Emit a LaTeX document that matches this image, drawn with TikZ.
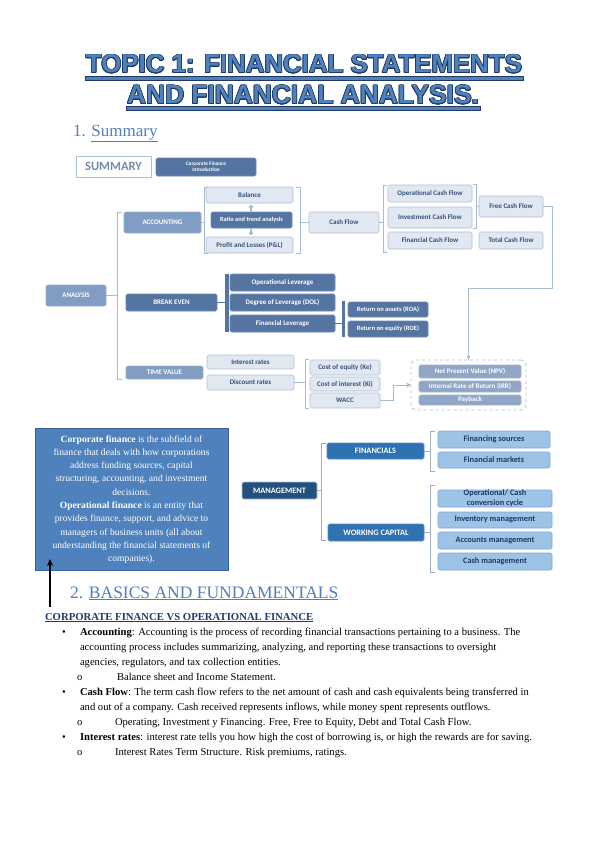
\documentclass[tikz,border=0pt]{standalone}
\usepackage{fontspec}
\usepackage{graphicx}
\setmainfont{Liberation Serif}
\newfontfamily\calf{Carlito}
\newfontfamily\arf{Liberation Sans}
\usepackage{contour}
\contourlength{0.7pt}
\usetikzlibrary{arrows.meta}
\definecolor{titleblue}{HTML}{4F81BD}
\definecolor{titlenavy}{HTML}{1F3864}
\definecolor{headblue}{HTML}{4F7FBE}
\definecolor{subhead}{HTML}{1F3C6E}
\definecolor{lightfill}{HTML}{E1E8F1}
\definecolor{lightborder}{HTML}{AFC0D8}
\definecolor{lighttext}{HTML}{34507E}
\definecolor{darkfill}{HTML}{5474A2}
\definecolor{midfill}{HTML}{829DC3}
\definecolor{greyfill}{HTML}{8FA6C7}
\definecolor{connc}{HTML}{A9BBD3}
\definecolor{navyfill}{HTML}{24507E}
\definecolor{medblue}{HTML}{2E72B4}
\definecolor{leaffill}{HTML}{9DC3E6}
\definecolor{leafborder}{HTML}{7DA7D6}
\definecolor{leaftext}{HTML}{1F3864}
\definecolor{tbfill}{HTML}{4F81BD}
\definecolor{tbborder}{HTML}{3A64A0}
\newcommand\dg{\calf\bfseries\fontsize{7}{8}\selectfont}
\newcommand\mg{\calf\bfseries\fontsize{8.3}{9.7}\selectfont}
\newcommand\bx[7]{\node[#2,minimum width={(#5-#3)*1pt},minimum height={(#6-#4)*1pt}] (#1) at ({(#3+#5)/2},{(#4+#6)/2}) {#7};}
\tikzset{
  base/.style={inner sep=0pt,outer sep=0pt,rounded corners=1.5pt,align=center,line width=0.6pt},
  lbox/.style={base,fill=lightfill,draw=lightborder,text=lighttext,font=\dg},
  dbox/.style={base,fill=darkfill,draw=darkfill!85!white,text=white,font=\dg},
  mbox/.style={base,fill=midfill,draw=midfill!85!white,text=white,font=\dg},
  gbox/.style={base,fill=greyfill,draw=greyfill!85!white,text=white,font=\dg},
  navybox/.style={base,fill=navyfill,draw=lightborder,text=white,font=\mg},
  medbox/.style={base,fill=medblue,draw=medblue!80!white,text=white,font=\mg},
  leafbox/.style={base,fill=leaffill,draw=leafborder,text=leaftext,font=\mg},
  conn/.style={draw=connc,line width=0.7pt},
  mconn/.style={draw=connc!80!gray,line width=0.7pt},
  txt/.style={anchor=base west,inner sep=0pt,outer sep=0pt},
}
\begin{document}
\begin{tikzpicture}[x=1pt,y=-1pt]
\useasboundingbox[fill=white] (0,0) rectangle (599,848);

% ---------- Title ----------
\fill[titleblue,draw=titlenavy,line width=0.5pt] (85,76) rectangle (523,80);
\fill[titleblue,draw=titlenavy,line width=0.5pt] (126,106) rectangle (480,110);
\node[anchor=base,inner sep=0pt] (t1) at (304,73)
  {\resizebox{436pt}{!}{\arf\bfseries\fontsize{25}{25}\selectfont\contour{titlenavy}{\textcolor{titleblue}{TOPIC 1: FINANCIAL STATEMENTS}}}};
\node[anchor=base,inner sep=0pt] (t2) at (303,104)
  {\resizebox{352pt}{!}{\arf\bfseries\fontsize{25}{25}\selectfont\contour{titlenavy}{\textcolor{titleblue}{AND FINANCIAL ANALYSIS.}}}};

\node[txt,text=headblue,font=\fontsize{17}{17}\selectfont] (s1) at (73,136) {1. \underline{Summary}};

% ---------- Summary diagram ----------
\bx{summary}{base,fill=white,draw=lightborder,line width=1pt,rounded corners=0pt,text=black!30!headblue!70!white,font=\calf\bfseries\fontsize{12.5}{13}\selectfont}{76}{156}{151}{177}{SUMMARY}
\bx{cfi}{dbox,font=\calf\bfseries\fontsize{5.3}{6.3}\selectfont}{156}{158}{256}{176}{Corporate Finance\\Introduction}

\bx{balance}{lbox}{206}{187}{293}{203}{Balance}
\bx{ratio}{dbox,font=\calf\bfseries\fontsize{6.3}{7}\selectfont}{211}{212}{292}{228}{Ratio and trend analysis}
\bx{pl}{lbox}{206}{237}{293}{253}{Profit and Losses (P\&L)}
\bx{accounting}{mbox}{124}{212}{201}{233}{ACCOUNTING}
\bx{cashflow}{lbox}{309}{212}{379}{233}{Cash Flow}
\bx{opcf}{lbox}{388}{185}{472}{202}{Operational Cash Flow}
\bx{invcf}{lbox}{388}{207}{472}{228}{Investment Cash Flow}
\bx{fincf}{lbox}{388}{232}{472}{249}{Financial Cash Flow}
\bx{freecf}{lbox}{479}{196}{543}{217}{Free Cash Flow}
\bx{totcf}{lbox}{479}{232}{543}{249}{Total Cash Flow}

\bx{analysis}{mbox}{46}{285}{106}{306}{ANALYSIS}
\bx{breakeven}{dbox}{126}{294}{217}{311}{BREAK EVEN}
\bx{oplev}{dbox}{230}{274}{335}{291}{Operational Leverage}
\bx{dol}{dbox}{230}{294}{335}{311}{Degree of Leverage (DOL)}
\bx{finlev}{dbox}{230}{315}{335}{332}{Financial Leverage}
\bx{roa}{dbox,font=\calf\bfseries\fontsize{6.5}{7}\selectfont}{348}{302}{428}{317}{Return on assets (ROA)}
\bx{roe}{dbox,font=\calf\bfseries\fontsize{6.5}{7}\selectfont}{348}{321}{428}{337}{Return on equity (ROE)}

\bx{timevalue}{mbox}{126}{366}{203}{379}{TIME VALUE}
\bx{intrates}{lbox}{207}{355}{294}{369}{Interest rates}
\bx{discrates}{lbox}{207}{375}{294}{390}{Discount rates}
\bx{costeq}{lbox}{310}{360}{380}{375}{Cost of equity (Ke)}
\bx{costint}{lbox}{310}{377}{380}{391}{Cost of interest (Ki)}
\bx{wacc}{lbox}{310}{393}{380}{408}{WACC}
\bx{npvbox}{base,draw=lightborder,dashed,line width=0.8pt,rounded corners=5pt,fill=white}{411}{360}{526}{410}{}
\bx{npv}{gbox}{419}{365}{521}{378}{Net Present Value (NPV)}
\bx{irr}{gbox}{419}{381}{521}{392}{Internal Rate of Return (IRR)}
\bx{payback}{gbox}{419}{395}{521}{405}{Payback}

% connectors
\draw[conn] (analysis.east) -- (117,295.5);
\draw[conn] (122,212) -- (117,212) -- (117,379) -- (122,379);
\draw[conn] (accounting.east) -- (204,222.5);
\draw[conn] (208,187) -- (204,187) -- (204,253) -- (208,253);
\draw[conn] (296,187) -- (300,187) -- (300,253) -- (296,253);
\draw[conn] (300,222.5) -- (cashflow.west);
\draw[conn] (cashflow.east) -- (383,222.5);
\draw[conn] (387,185) -- (383,185) -- (383,252) -- (387,252);
\draw[conn] (473,184) -- (476,184) -- (476,228) -- (473,228);
\draw[conn] (476,206.5) -- (freecf.west);
\coordinate (fc1) at (552,206.5);
\coordinate (fc2) at (552,288);
\coordinate (fc3) at (468.5,288);
\draw[conn,-{Stealth[length=5pt,width=4pt]}] (freecf.east) -- (fc1) -- (fc2) -- (fc3) -- (npvbox.north);
\draw[connc,line width=1.6pt,-{Triangle[length=3pt,width=5pt]}] (ratio.north -| 251,0) ++(0,-0.5) -- (251,204.5);
\draw[connc,line width=1.6pt,-{Triangle[length=3pt,width=5pt]}] (ratio.south -| 251,0) ++(0,0.5) -- (251,235.5);

\draw[draw=darkfill,line width=0.7pt] (breakeven.east) -- (225,302.5);
\fill[darkfill] (225,274) rectangle (229,332);
\draw[draw=darkfill,line width=0.7pt] (finlev.east) -- (342,323.5);
\fill[darkfill] (342,301) rectangle (345,337);

\draw[conn] (discrates.east) -- (305,382.5);
\draw[conn] (309,359) -- (305,359) -- (305,408) -- (309,408);
\coordinate (w1) at (393,400.5);
\coordinate (w2) at (393,385);
\draw[conn,line width=1pt,-{Stealth[length=5pt,width=5pt]}] (wacc.east) -- (w1) -- (w2) -- (npvbox.west);

% ---------- Text box ----------
\node[base,rounded corners=0pt,fill=tbfill,draw=tbborder,line width=1pt,minimum width=193pt,minimum height=142pt] (tb) at (131.5,499) {};
\node[inner sep=0pt,align=center,text=white,font=\fontsize{9.6}{13.3}\selectfont] (tbt) at (131.5,499.5)
{\textbf{Corporate finance} is the subfield of\\
finance that deals with how corporations\\
address funding sources, capital\\
structuring, accounting, and investment\\
decisions.\\
\textbf{Operational finance} is an entity that\\
provides finance, support, and advice to\\
managers of business units (all about\\
understanding the financial statements of\\
companies).};
\coordinate (arrs) at (50,607);
\coordinate (arrt) at (50,559);
\draw[black,line width=2.2pt,-{Stealth[length=7pt,width=6pt]}] (arrs) -- (arrt);

% ---------- Management diagram ----------
\bx{mgmt}{navybox}{242}{482}{317}{499}{MANAGEMENT}
\bx{fin}{medbox}{327}{443}{424}{459}{FINANCIALS}
\bx{wc}{medbox}{328}{524}{424}{541}{WORKING CAPITAL}
\bx{fs}{leafbox}{438}{431}{550}{448}{Financing sources}
\bx{fm}{leafbox}{438}{452}{550}{468}{Financial markets}
\bx{occ}{leafbox}{438}{490}{552}{507}{Operational/ Cash\\conversion cycle}
\bx{invm}{leafbox}{438}{512}{552}{528}{Inventory management}
\bx{accm}{leafbox}{438}{532}{552}{549}{Accounts management}
\bx{cashm}{leafbox}{438}{553}{552}{570}{Cash management}

\draw[mconn] (mgmt.east) -- (321,490.5);
\draw[mconn] (326,443) -- (321,443) -- (321,540) -- (326,540);
\draw[mconn] (fin.east) -- (430,451);
\draw[mconn] (435,431) -- (430,431) -- (430,471) -- (435,471);
\draw[mconn] (wc.east) -- (430,532.5);
\draw[mconn] (435,485) -- (430,485) -- (430,572) -- (435,572);

% ---------- Body text ----------
\node[txt,text=headblue,font=\fontsize{17.5}{17.5}\selectfont] (h2) at (70,598) {2. \underline{BASICS AND FUNDAMENTALS}};
\node[txt,text=subhead,font=\bfseries\fontsize{10.7}{12}\selectfont] (h3) at (45,620) {\underline{CORPORATE FINANCE VS OPERATIONAL FINANCE}};

\begin{scope}[every node/.style={txt,font=\fontsize{10.6}{12}\selectfont}]
\node (bu1) at (62,635) {\textbullet};
\node (l1) at (80,635) {\textbf{Accounting}: Accounting is the process of recording financial transactions pertaining to a business. The};
\node (l2) at (80,650) {accounting process includes summarizing, analyzing, and reporting these transactions to oversight};
\node (l3) at (80,665) {agencies, regulators, and tax collection entities.};
\node (o1) at (77,680) {o};
\node (l4) at (117,680) {Balance sheet and Income Statement.};
\node (bu2) at (62,695) {\textbullet};
\node (l5) at (80,695) {\textbf{Cash Flow}: The term cash flow refers to the net amount of cash and cash equivalents being transferred in};
\node (l6) at (80,710) {and out of a company. Cash received represents inflows, while money spent represents outflows.};
\node (o2) at (77,725) {o};
\node (l7) at (115,725) {Operating, Investment y Financing. Free, Free to Equity, Debt and Total Cash Flow.};
\node (bu3) at (62,740) {\textbullet};
\node (l8) at (80,740) {\textbf{Interest rates}: interest rate tells you how high the cost of borrowing is, or high the rewards are for saving.};
\node (o3) at (77,755) {o};
\node (l9) at (115,755) {Interest Rates Term Structure. Risk premiums, ratings.};
\end{scope}
\end{tikzpicture}
\end{document}
